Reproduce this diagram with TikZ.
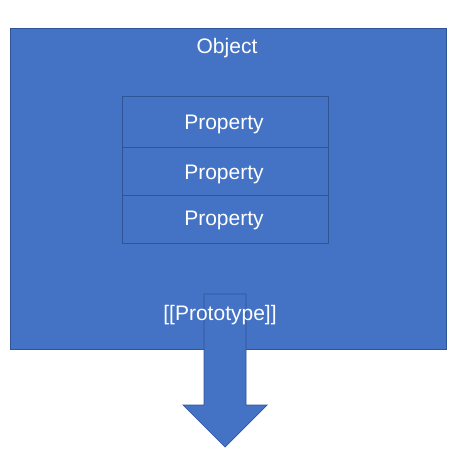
\documentclass[tikz,border=0pt]{standalone}
\usepackage{fontspec}
\setmainfont{Liberation Sans}
\definecolor{objblue}{HTML}{4472C4}
\definecolor{edgeblue}{HTML}{2F5597}
\begin{document}
\begin{tikzpicture}[x=1pt,y=-1pt,
  lbl/.style={text=white,font=\fontsize{21}{25}\selectfont,inner sep=0pt},
  box/.style={draw=edgeblue,line width=0.7pt,inner sep=0pt,minimum width=206pt,anchor=north west},
  objbox/.style={draw=edgeblue,fill=objblue,line width=0.8pt,inner sep=0pt,anchor=north west}]
\useasboundingbox (0,0) rectangle (455,460);
\node[objbox,minimum width=436pt,minimum height=321pt] (obj) at (10,28) {};
\node[lbl] (objlabel) at (227,48) {Object};
\node[box,minimum height=51pt] (p1) at (122,96) {};
\node[box,minimum height=48pt] (p2) at (122,147) {};
\node[box,minimum height=48pt] (p3) at (122,195) {};
\node[lbl] (p1t) at (224,124) {Property};
\node[lbl] (p2t) at (224,174) {Property};
\node[lbl] (p3t) at (224,220) {Property};
\draw[draw=edgeblue,fill=objblue,line width=0.7pt,line join=miter]
  (204,294) -- (246,294) -- (246,405) -- (267,405) -- (225,447)
  -- (183,405) -- (204,405) -- cycle;
\node[lbl] (proto) at (220,315) {[[Prototype]]};
\end{tikzpicture}
\end{document}
